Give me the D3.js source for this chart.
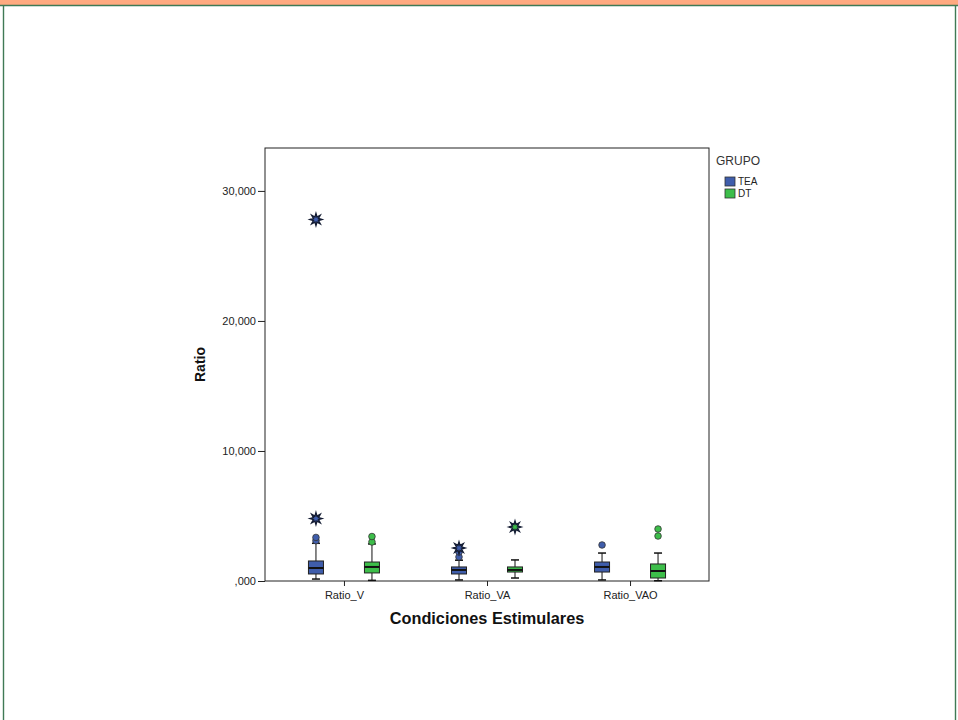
<!DOCTYPE html>
<html>
<head>
<meta charset="utf-8">
<script src="https://cdn.jsdelivr.net/npm/d3@7"></script>
<style>
  html, body { margin: 0; padding: 0; background: #fff; }
  svg { display: block; font-family: "Liberation Sans", Arial, sans-serif; }
</style>
</head>
<body>
<svg id="chart" width="958" height="720"></svg>
<script>
// Stimulus conditions and groups
const conditions = ["Ratio_V", "Ratio_VA", "Ratio_VAO"];
const groups = ["TEA", "DT"];
const groupColors = ["#3F5DAB", "#3DBE4A"];

// Box statistics per group, one entry per condition: [lowWhisker, q1, median, q3, highWhisker]
const teaBoxes = [
  [150, 540, 1000, 1540, 2900],
  [80, 540, 850, 1080, 1600],
  [80, 690, 1080, 1460, 2150]
];
const dtBoxes = [
  [50, 620, 1080, 1460, 2850],
  [230, 690, 850, 1080, 1620],
  [20, 230, 770, 1310, 2150]
];

// Outliers (circles) and extremes (stars)
const teaOutliers = [[3100, 3350], [1850, 2230], [2770]];
const dtOutliers = [[3000, 3420], [], [3460, 4000]];
const teaExtremes = [[4800, 27800], [2540], []];
const dtExtremes = [[], [4150], []];

const yTicks = [0, 10000, 20000, 30000];
const yTickLabels = [",000", "10,000", "20,000", "30,000"];

const svg = d3.select("#chart");

// Page frame
svg.append("rect").attr("x", 0).attr("y", 0).attr("width", 958).attr("height", 5).attr("fill", "#FFAA80");
svg.append("line").attr("x1", 0).attr("x2", 958).attr("y1", 5.5).attr("y2", 5.5).attr("stroke", "#3F7A55").attr("stroke-width", 1.5);
svg.append("line").attr("x1", 3.5).attr("x2", 3.5).attr("y1", 5).attr("y2", 720).attr("stroke", "#3F7A55").attr("stroke-width", 1.4);
svg.append("line").attr("x1", 955.5).attr("x2", 955.5).attr("y1", 5).attr("y2", 720).attr("stroke", "#3F7A55").attr("stroke-width", 1.4);

// Plot area
const plotLeft = 265, plotRight = 709, plotTop = 148, plotBottom = 581;

const y = d3.scaleLinear().domain([0, 33300]).range([plotBottom, plotTop]);
const x = d3.scalePoint().domain(conditions).range([plotLeft, plotRight]).padding(0.552);
const groupOffset = d3.scalePoint().domain(groups).range([-28, 28]);

// Frame of plot
svg.append("rect")
  .attr("x", plotLeft).attr("y", plotTop)
  .attr("width", plotRight - plotLeft).attr("height", plotBottom - plotTop)
  .attr("fill", "none").attr("stroke", "#222").attr("stroke-width", 1);

// Y axis
const yAxis = d3.axisLeft(y).tickValues(yTicks)
  .tickFormat((d, i) => yTickLabels[i]).tickSize(7).tickPadding(2);
const gy = svg.append("g").attr("transform", `translate(${plotLeft},0)`).call(yAxis);
gy.select(".domain").remove();
gy.selectAll("line").attr("stroke", "#222");
gy.selectAll("text").attr("font-size", 11).attr("fill", "#222");

// X axis
const xAxis = d3.axisBottom(x).tickSize(5).tickPadding(5);
const gx = svg.append("g").attr("transform", `translate(0,${plotBottom})`).call(xAxis);
gx.select(".domain").remove();
gx.selectAll("line").attr("stroke", "#222");
gx.selectAll("text").attr("font-size", 11).attr("fill", "#222");

// Axis titles
svg.append("text")
  .attr("transform", `translate(205,${(plotTop + plotBottom) / 2}) rotate(-90)`)
  .attr("text-anchor", "middle")
  .attr("font-size", 14).attr("font-weight", "bold").attr("fill", "#111")
  .text("Ratio");
svg.append("text")
  .attr("x", (plotLeft + plotRight) / 2).attr("y", 624)
  .attr("text-anchor", "middle")
  .attr("font-size", 16.3).attr("font-weight", "bold").attr("fill", "#111")
  .text("Condiciones Estimulares");

// Eight-pointed star for extreme values
function starPath(r) {
  const pts = [];
  for (let i = 0; i < 16; i++) {
    const a = i * Math.PI / 8 - Math.PI / 2;
    const rr = i % 2 === 0 ? r : r * 0.45;
    pts.push([rr * Math.cos(a), rr * Math.sin(a)]);
  }
  return "M" + pts.map(p => p.join(",")).join("L") + "Z";
}

const boxWidth = 15;
const capWidth = 8;

const series = [
  { boxes: teaBoxes, outliers: teaOutliers, extremes: teaExtremes },
  { boxes: dtBoxes, outliers: dtOutliers, extremes: dtExtremes }
];

series.forEach((s, gi) => {
  const color = groupColors[gi];
  conditions.forEach((c, ci) => {
    const cx = x(c) + groupOffset(groups[gi]);
    const [lo, q1, med, q3, hi] = s.boxes[ci];
    const g = svg.append("g");
    // whisker
    g.append("line").attr("x1", cx).attr("x2", cx).attr("y1", y(lo)).attr("y2", y(hi))
      .attr("stroke", "#111").attr("stroke-width", 1);
    g.append("line").attr("x1", cx - capWidth / 2).attr("x2", cx + capWidth / 2)
      .attr("y1", y(lo)).attr("y2", y(lo)).attr("stroke", "#111").attr("stroke-width", 1.5);
    g.append("line").attr("x1", cx - capWidth / 2).attr("x2", cx + capWidth / 2)
      .attr("y1", y(hi)).attr("y2", y(hi)).attr("stroke", "#111").attr("stroke-width", 1.5);
    // box
    g.append("rect").attr("x", cx - boxWidth / 2).attr("y", y(q3))
      .attr("width", boxWidth).attr("height", y(q1) - y(q3))
      .attr("fill", color).attr("stroke", "#222").attr("stroke-width", 1);
    // median
    g.append("line").attr("x1", cx - boxWidth / 2).attr("x2", cx + boxWidth / 2)
      .attr("y1", y(med)).attr("y2", y(med)).attr("stroke", "#111").attr("stroke-width", 2);
    // outliers
    s.outliers[ci].forEach(v => {
      g.append("circle").attr("cx", cx).attr("cy", y(v)).attr("r", 3.3)
        .attr("fill", color).attr("stroke", "#333").attr("stroke-width", 0.8);
    });
    // extremes
    s.extremes[ci].forEach(v => {
      g.append("path").attr("d", starPath(6))
        .attr("transform", `translate(${cx},${y(v)})`)
        .attr("fill", color).attr("stroke", "#141c33").attr("stroke-width", 1.4);
    });
  });
});

// Legend
const legend = svg.append("g").attr("transform", "translate(716,160)");
legend.append("text").attr("x", 0).attr("y", 5)
  .attr("font-size", 12).attr("fill", "#333").text("GRUPO");
groups.forEach((gname, i) => {
  const ly = 17 + i * 12;
  legend.append("rect").attr("x", 9).attr("y", ly).attr("width", 10).attr("height", 9)
    .attr("fill", groupColors[i]).attr("stroke", "#333").attr("stroke-width", 0.8);
  legend.append("text").attr("x", 22).attr("y", ly + 8)
    .attr("font-size", 10).attr("fill", "#222").text(gname);
});
</script>
</body>
</html>
